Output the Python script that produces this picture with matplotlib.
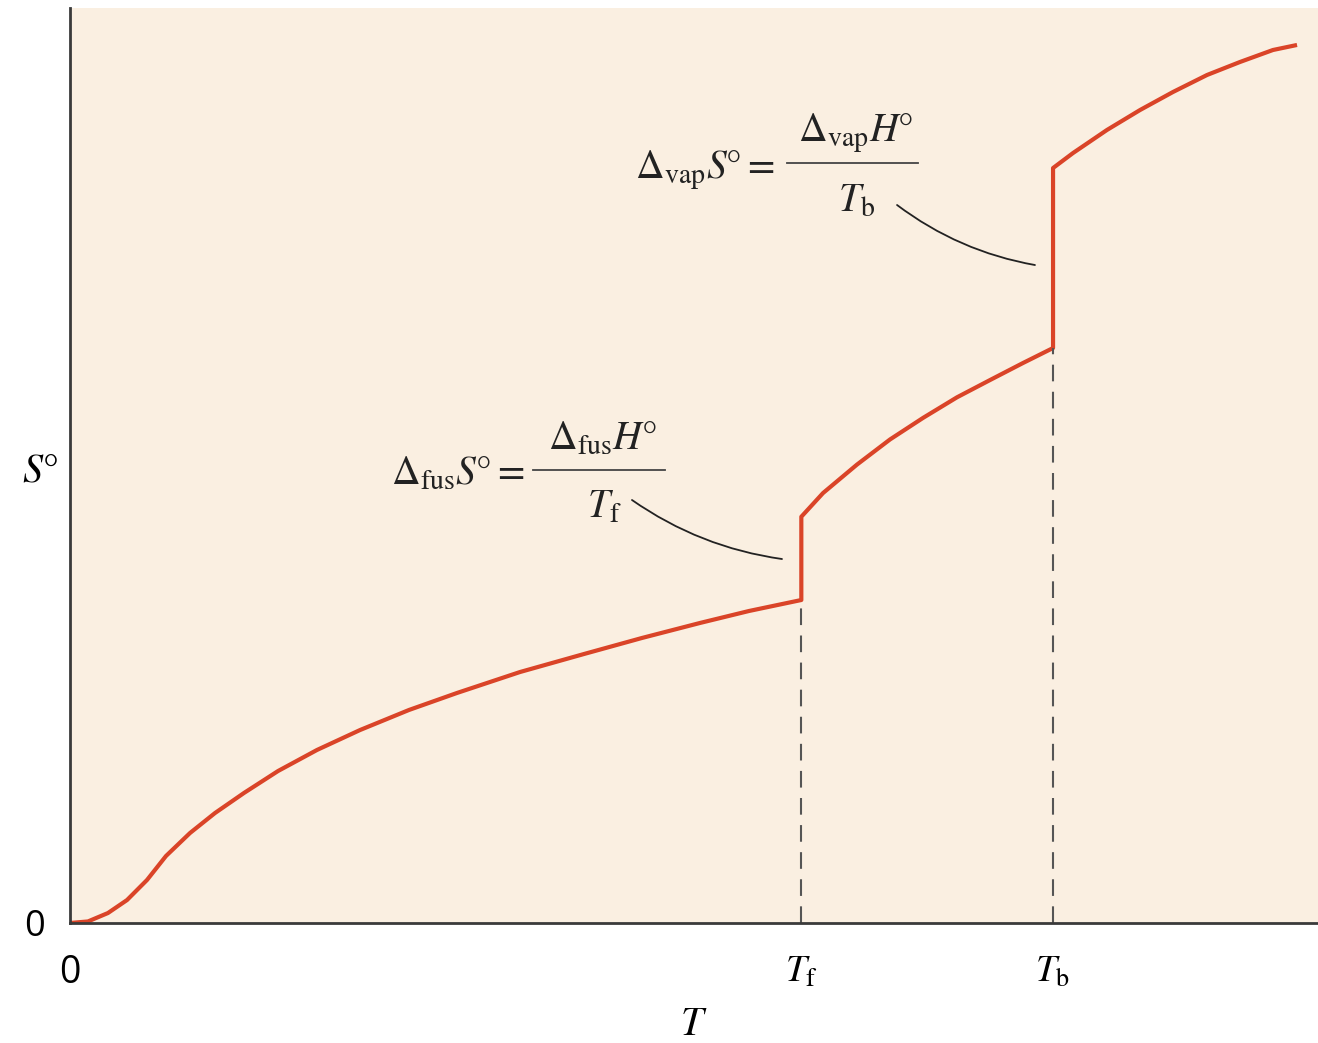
import numpy as np
import matplotlib
matplotlib.use("Agg")
import matplotlib.pyplot as plt

plt.rcParams['mathtext.fontset'] = 'stix'

# readings from the picture (arbitrary units, T and S from 0 to 100)
T_f = 58.6
T_b = 78.77

solid_T = [0.0, 1.44, 3.04, 4.57, 6.17, 7.69, 9.62, 11.62, 13.94, 16.67, 19.79,
           23.24, 27.16, 31.01, 36.06, 41.19, 45.83, 50.48, 54.41, 58.6]
solid_S = [0.0, 0.17, 1.09, 2.51, 4.70, 7.32, 9.84, 12.02, 14.21, 16.61, 18.91,
           21.09, 23.28, 25.14, 27.43, 29.40, 31.15, 32.79, 34.10, 35.30]

liquid_T = [58.6, 60.34, 63.06, 65.71, 68.35, 71.07, 73.72, 76.36, 78.77]
liquid_S = [44.40, 46.99, 50.10, 52.85, 55.20, 57.45, 59.34, 61.20, 62.84]

gas_T = [78.77, 80.37, 83.09, 85.74, 88.38, 91.11, 93.75, 96.39, 98.32]
gas_S = [82.51, 84.15, 86.67, 88.85, 90.82, 92.68, 94.10, 95.41, 95.96]

x_ticks = [0, T_f, T_b]
x_labels = ['0', r'$T_{\mathrm{f}}$', r'$T_{\mathrm{b}}$']

bg = '#FAEFE1'
red = '#DA4428'
ink = '#222222'

fig = plt.figure(figsize=(13.18, 10.43), dpi=100)
ax = fig.add_axes([70 / 1318, 120 / 1043, 1248 / 1318, 915 / 1043])
ax.set_facecolor(bg)

# curve: solid, jump at T_f, liquid, jump at T_b, gas
T_all = solid_T + liquid_T + gas_T
S_all = solid_S + liquid_S + gas_S
ax.plot(T_all, S_all, color=red, lw=3, solid_joinstyle='round', solid_capstyle='butt')

# dashed drop lines
ax.plot([T_f, T_f], [0, solid_S[-1]], color='#555555', lw=1.5, ls=(0, (8, 5)))
ax.plot([T_b, T_b], [0, liquid_S[-1]], color='#555555', lw=1.5, ls=(0, (8, 5)))

ax.set_xlim(0, 100)
ax.set_ylim(0, 100)
for s in ['top', 'right']:
    ax.spines[s].set_visible(False)
for s in ['left', 'bottom']:
    ax.spines[s].set_color('#3a3a3a')
    ax.spines[s].set_linewidth(2)

ax.set_xticks(x_ticks)
ax.set_xticklabels(x_labels)
ax.set_yticks([0])
ax.set_yticklabels(['0'])
ax.tick_params(axis='x', direction='in', length=0, pad=22, labelsize=27)
ax.tick_params(axis='y', direction='in', length=0, pad=18, labelsize=26)
for lab in ax.get_xticklabels()[:1] + ax.get_yticklabels():
    lab.set_family('Open Sans')

ax.set_xlabel(r'$T$', fontsize=29, labelpad=9)
ax.set_ylabel(r'$S\degree$', fontsize=29, rotation=0, ha='center', va='center')
ax.yaxis.set_label_coords(-0.024, 0.495)

# annotations
fs = 28.5
ax.text(56.5, 81.4, r'$\Delta_{\mathrm{vap}}S\degree =$', fontsize=fs, ha='right', va='baseline', color=ink)
ax.text(62.98, 85.4, r'$\Delta_{\mathrm{vap}}H\degree$', fontsize=fs, ha='center', va='baseline', color=ink)
ax.plot([57.45, 67.95], [83.06, 83.06], color='#444444', lw=1.3)
ax.text(63.06, 77.7, r'$T_{\mathrm{b}}$', fontsize=fs, ha='center', va='baseline', color=ink)

ax.text(36.4, 47.9, r'$\Delta_{\mathrm{fus}}S\degree =$', fontsize=fs, ha='right', va='baseline', color=ink)
ax.text(42.63, 51.7, r'$\Delta_{\mathrm{fus}}H\degree$', fontsize=fs, ha='center', va='baseline', color=ink)
ax.plot([37.1, 47.68], [49.51, 49.51], color='#444444', lw=1.3)
ax.text(42.79, 44.26, r'$T_{\mathrm{f}}$', fontsize=fs, ha='center', va='baseline', color=ink)

# leader lines
ax.annotate('', xy=(57.05, 39.78), xytext=(45.03, 46.23),
            arrowprops=dict(arrowstyle='-', connectionstyle='arc3,rad=0.12',
                            color=ink, lw=1.3, shrinkA=0, shrinkB=0))
ax.annotate('', xy=(77.32, 71.91), xytext=(66.27, 78.47),
            arrowprops=dict(arrowstyle='-', connectionstyle='arc3,rad=0.12',
                            color=ink, lw=1.3, shrinkA=0, shrinkB=0))

fig.savefig('out.png', dpi=100, facecolor='white')
